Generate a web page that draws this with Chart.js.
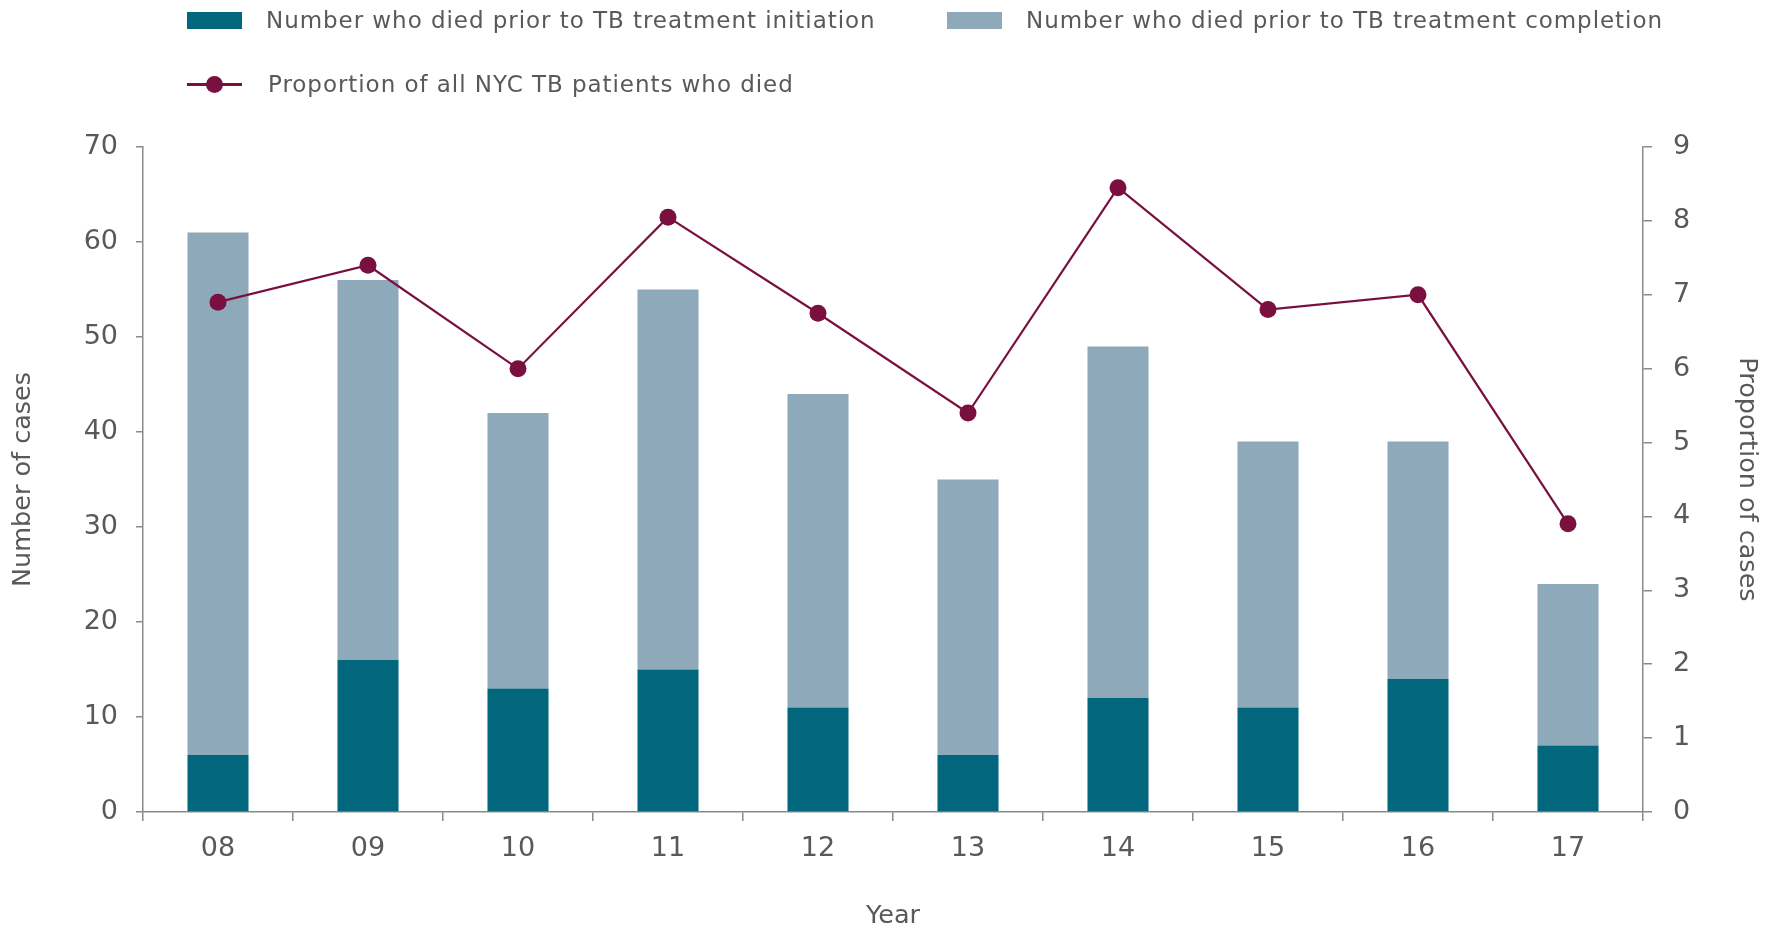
<!DOCTYPE html>
<html>
<head>
<meta charset="utf-8">
<script src="https://cdn.jsdelivr.net/npm/chart.js@4.4.0/dist/chart.umd.min.js"></script>
<style>
  body { margin: 0; background: #fff; }
  #wrap { position: relative; width: 1775px; height: 926px; }
  #legend { font-family: 'DejaVu Sans', sans-serif; font-size: 23px; color: #595959; letter-spacing: 0.95px; }
  .leg-item { position: absolute; height: 34px; display: flex; align-items: center; white-space: nowrap; }
  .leg-box { width: 55px; height: 17px; margin-right: 24px; }
  .leg-line { position: relative; width: 55px; height: 17px; margin-right: 26px; }
  .leg-line .bar { position: absolute; left: 0; right: 0; top: 7px; height: 3px; }
  .leg-line .dot { position: absolute; left: 19px; top: 0; width: 17px; height: 17px; border-radius: 50%; }
  #it0 { left: 187px; top: 3px; }
  #it1 { left: 947px; top: 3px; }
  #it2 { left: 187px; top: 67px; }
</style>
</head>
<body>
<div id="wrap">
  <canvas id="tbChart" width="1775" height="926"></canvas>
  <div id="legend"></div>
</div>
<script>
const years = ['08', '09', '10', '11', '12', '13', '14', '15', '16', '17'];
// dark segment: died before treatment started
const diedBeforeStart = [6, 16, 13, 15, 11, 6, 12, 11, 14, 7];
// light segment stacked on top (died before completing treatment)
const diedBeforeEnd = [55, 40, 29, 40, 33, 29, 37, 28, 25, 17];
// percent of all NYC TB patients who died
const pctDied = [6.9, 7.4, 6.0, 8.05, 6.75, 5.4, 8.45, 6.8, 7.0, 3.9];

const leftTicks = [0, 10, 20, 30, 40, 50, 60, 70];
const rightTicks = [0, 1, 2, 3, 4, 5, 6, 7, 8, 9];

const DARK = '#02667d';
const LIGHT = '#8eaaba';
const MAROON = '#7a1040';
const TEXT = '#595959';
const AXIS = '#8a8a8a';

const ctx = document.getElementById('tbChart').getContext('2d');
const tbChart = new Chart(ctx, {
    type: 'bar',
    data: {
        labels: years,
        datasets: [
            {
                label: 'Number who died prior to TB treatment initiation',
                data: diedBeforeStart,
                backgroundColor: DARK,
                yAxisID: 'y',
                order: 2,
                barPercentage: 0.407,
                categoryPercentage: 1
            },
            {
                label: 'Number who died prior to TB treatment completion',
                data: diedBeforeEnd,
                backgroundColor: LIGHT,
                yAxisID: 'y',
                order: 2,
                barPercentage: 0.407,
                categoryPercentage: 1
            },
            {
                type: 'line',
                label: 'Proportion of all NYC TB patients who died',
                data: pctDied,
                borderColor: MAROON,
                backgroundColor: MAROON,
                borderWidth: 2.2,
                pointRadius: 8.5,
                pointHoverRadius: 8.5,
                pointBorderWidth: 0,
                tension: 0,
                yAxisID: 'y1',
                order: 1
            }
        ]
    },
    options: {
        responsive: false,
        animation: false,
        layout: { padding: { top: 147, left: 0, right: 0, bottom: 0 } },
        plugins: {
            legend: { display: false },
            tooltip: { enabled: false }
        },
        scales: {
            x: {
                stacked: true,
                border: { color: AXIS, width: 1.5 },
                grid: { drawOnChartArea: false, tickLength: 9, color: AXIS, lineWidth: 1.5 },
                ticks: { color: TEXT, font: { family: 'DejaVu Sans', size: 27 }, padding: 12, maxRotation: 0 },
                title: {
                    display: true, text: 'Year', color: TEXT,
                    font: { family: 'DejaVu Sans', size: 25.5, lineHeight: 0.78 }, padding: { top: 0, bottom: 0 }
                },
                afterFit: s => { s.height = 114; }
            },
            y: {
                stacked: true,
                position: 'left',
                min: 0, max: 70,
                afterBuildTicks: s => { s.ticks = leftTicks.map(v => ({ value: v })); },
                border: { color: AXIS, width: 1.5 },
                grid: { drawOnChartArea: false, tickLength: 7, color: AXIS, lineWidth: 1.5 },
                ticks: { color: TEXT, font: { family: 'DejaVu Sans', size: 27 }, padding: 18 },
                title: {
                    display: true, text: 'Number of cases', color: TEXT,
                    font: { family: 'DejaVu Sans', size: 25.5 }, padding: { top: 8, bottom: 0 }
                },
                afterFit: s => { s.width = 143; }
            },
            y1: {
                stacked: false,
                position: 'right',
                min: 0, max: 9,
                afterBuildTicks: s => { s.ticks = rightTicks.map(v => ({ value: v })); },
                border: { color: AXIS, width: 1.5 },
                grid: { drawOnChartArea: false, tickLength: 9, color: AXIS, lineWidth: 1.5 },
                ticks: { color: TEXT, font: { family: 'DejaVu Sans', size: 27 }, padding: 21 },
                title: {
                    display: true, text: 'Proportion of cases', color: TEXT,
                    font: { family: 'DejaVu Sans', size: 25.5 }, padding: { top: 13, bottom: 0 }
                },
                afterFit: s => { s.width = 132; }
            }
        }
    }
});

// html legend, laid out like the original (2 columns, 2 rows)
function buildLegend(chart) {
    const box = document.getElementById('legend');
    chart.data.datasets.forEach((ds, i) => {
        const item = document.createElement('div');
        item.className = 'leg-item';
        item.id = 'it' + i;
        let marker;
        if (ds.type === 'line') {
            marker = document.createElement('div');
            marker.className = 'leg-line';
            marker.innerHTML = '<div class="bar"></div><div class="dot"></div>';
            marker.querySelector('.bar').style.background = ds.borderColor;
            marker.querySelector('.dot').style.background = ds.backgroundColor;
        } else {
            marker = document.createElement('div');
            marker.className = 'leg-box';
            marker.style.background = ds.backgroundColor;
        }
        const txt = document.createElement('span');
        txt.innerText = ds.label;
        item.appendChild(marker);
        item.appendChild(txt);
        box.appendChild(item);
    });
}
buildLegend(tbChart);
</script>
</body>
</html>
